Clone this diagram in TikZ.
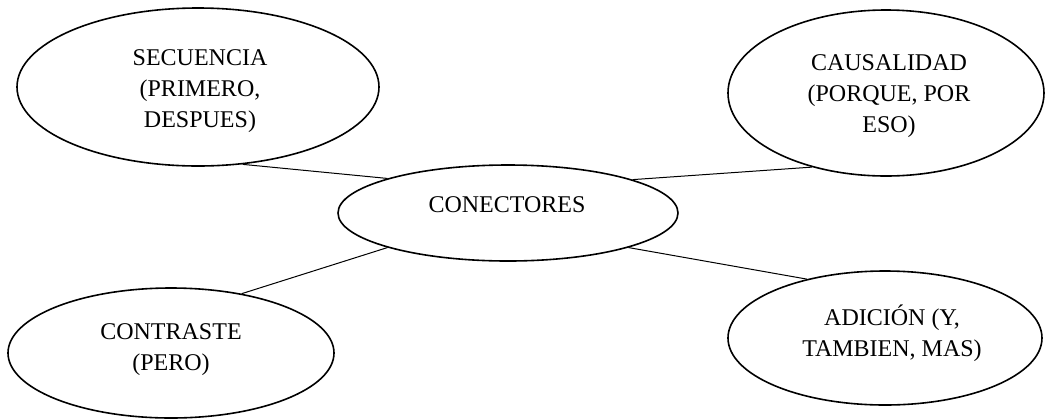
\documentclass[tikz,border=0pt]{standalone}
\usepackage{fontspec}
\setmainfont{Liberation Serif}
\usetikzlibrary{shapes.geometric}
\begin{document}
\begin{tikzpicture}[x=0.5pt,y=-0.5pt,
  bubble/.style={ellipse,draw,line width=0.8pt,inner sep=0pt},
  label/.style={font=\fontsize{12pt}{15.5pt}\selectfont,align=center,inner sep=0pt},
  link/.style={line width=0.5pt}]
\useasboundingbox (0,0) rectangle (1046,419);
\node[bubble,minimum width=181pt,minimum height=79pt] (tl) at (198,87) {};
\node[bubble,minimum width=158pt,minimum height=83pt] (tr) at (886,93) {};
\node[bubble,minimum width=170pt,minimum height=48pt] (c) at (508,213) {};
\node[bubble,minimum width=163pt,minimum height=65pt] (bl) at (171,353) {};
\node[bubble,minimum width=157pt,minimum height=67pt] (br) at (885,338) {};
\node[label] (tlt) at (200,91) {SECUENCIA\\(PRIMERO,\\DESPUES)};
\node[label] (trt) at (889,96) {CAUSALIDAD\\(PORQUE, POR\\ESO)};
\node[label] (ct) at (507,205) {CONECTORES};
\node[label] (blt) at (171,350) {CONTRASTE\\(PERO)};
\node[label] (brt) at (892,333) {ADICIÓN (Y,\\TAMBIEN, MAS)};
\draw[link] (tl.-60.75) -- (c.164.5);
\draw[link] (c.15.1) -- (tr.225.4);
\draw[link] (c.196.3) -- (bl.40.2);
\draw[link] (c.-16.3) -- (br.143.4);
\end{tikzpicture}
\end{document}
